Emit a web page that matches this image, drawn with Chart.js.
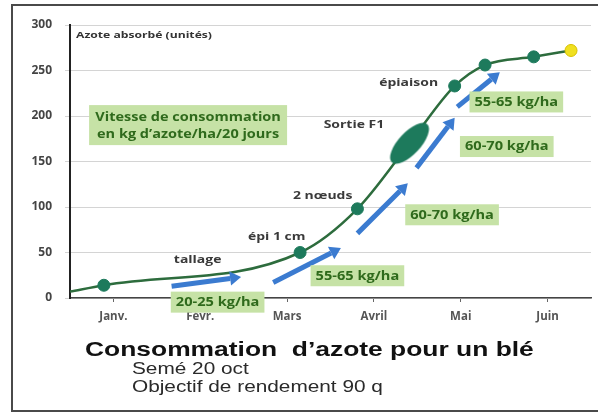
<!DOCTYPE html>
<html>
<head>
<meta charset="utf-8">
<script src="https://cdn.jsdelivr.net/npm/chart.js@4.4.1/dist/chart.umd.min.js"></script>
<style>
  body { margin: 0; background: #fff; }
  #wrap { position: relative; width: 598px; height: 414px; overflow: hidden; }
  #cadre { position: absolute; left: 11px; top: 4px; width: 600px; height: 404px; border: 2px solid #4a4a4a; }
  #graph { position: absolute; left: 0; top: 0; }
  .titre { position: absolute; left: 85px; top: 339px; font: bold 20px/20px "Liberation Sans", Arial, sans-serif; color: #111; white-space: pre; transform: scaleX(1.32); transform-origin: left top; }
  .sous { position: absolute; left: 132px; font: 16px/16px "Liberation Sans", Arial, sans-serif; color: #2a2a2a; transform: scaleX(1.3); transform-origin: left top; }
</style>
</head>
<body>
<div id="wrap">
  <div id="cadre"></div>
  <canvas id="graph" width="598" height="414"></canvas>
  <div class="titre">Consommation  d’azote pour un blé</div>
  <div class="sous" style="top:361px">Semé 20 oct</div>
  <div class="sous" style="top:379px">Objectif de rendement 90 q</div>
</div>
<script>
// Mois (axe X) et courbe d'azote absorbé
const mois = ['Janv.', 'Févr.', 'Mars', 'Avril', 'Mai', 'Juin'];
const moisPos = [0, 0.39, 2.65, 3.31, 3.91, 4.43, 4.78, 5.34, 5.77];
const azote = [7, 14, 50, 98, 170, 233, 256, 265, 272];
const yTicks = [0, 50, 100, 150, 200, 250, 300];

// Flèches de vitesse (début / fin, en mois et unités)
const flecheDebutX = [1.17, 2.34, 3.31, 3.99, 4.46];
const flecheDebutY = [13, 17, 71, 143, 210];
const flecheFinX = [1.97, 3.12, 3.89, 4.43, 4.95];
const flecheFinY = [23, 55, 126, 198, 248];

// Étiquettes vertes
const vitesses = ['20-25 kg/ha', '55-65 kg/ha', '60-70 kg/ha', '60-70 kg/ha', '55-65 kg/ha'];
const vitesseX = [1.70, 3.31, 4.40, 5.03, 5.14];
const vitesseY = [-4, 25, 92, 167, 216];

// Stades
const stades = ['tallage', 'épi 1 cm', '2 nœuds', 'Sortie F1', 'épiaison'];
const stadeX = [1.47, 2.38, 2.91, 3.27, 3.90];
const stadeY = [42, 67, 112, 190, 236];

const vert = '#1d7a5c';
const etire = 1.27; // le texte de l'image d'origine est étiré en largeur

// point en ellipse pour la sortie F1
function ellipse() {
    const c = document.createElement('canvas');
    c.width = 60; c.height = 60;
    const g = c.getContext('2d');
    g.fillStyle = vert;
    g.beginPath();
    g.ellipse(30, 30, 26, 11, -0.82, 0, Math.PI * 2);
    g.fill();
    return c;
}

// texte étiré horizontalement autour de x
function texte(ctx, str, x, y, k) {
    ctx.save();
    ctx.translate(x, y);
    ctx.scale(k, 1);
    ctx.fillText(str, 0, 0);
    ctx.restore();
}

const styles = moisPos.map((p, i) => i == 4 ? ellipse() : 'circle');
const rayons = moisPos.map((p, i) => i == 0 ? 0 : 6);
const fonds = moisPos.map((p, i) => i == moisPos.length - 1 ? '#f0e020' : vert);
const bords = moisPos.map((p, i) => i == moisPos.length - 1 ? '#d8c000' : vert);

const annotations = {
    id: 'annotations',
    afterDraw(chart) {
        const ctx = chart.ctx;
        const sx = chart.scales.x2, sy = chart.scales.y;
        const area = chart.chartArea;
        ctx.save();

        // titre de l'axe
        ctx.fillStyle = '#333';
        ctx.font = 'bold 9px "Open Sans"';
        ctx.textAlign = 'left';
        ctx.textBaseline = 'middle';
        texte(ctx, 'Azote absorbé (unités)', area.left + 6, area.top + 10, 1.35);

        // flèches bleues
        ctx.strokeStyle = '#3b7bd0';
        ctx.fillStyle = '#3b7bd0';
        ctx.lineWidth = 5;
        for (let i = 0; i < flecheDebutX.length; i++) {
            const x1 = sx.getPixelForValue(flecheDebutX[i]), y1 = sy.getPixelForValue(flecheDebutY[i]);
            const x2 = sx.getPixelForValue(flecheFinX[i]), y2 = sy.getPixelForValue(flecheFinY[i]);
            const a = Math.atan2(y2 - y1, x2 - x1);
            const bx = x2 - 11 * Math.cos(a), by = y2 - 11 * Math.sin(a);
            ctx.beginPath();
            ctx.moveTo(x1, y1);
            ctx.lineTo(bx, by);
            ctx.stroke();
            ctx.beginPath();
            ctx.moveTo(x2, y2);
            ctx.lineTo(bx + 7 * Math.sin(a), by - 7 * Math.cos(a));
            ctx.lineTo(bx - 7 * Math.sin(a), by + 7 * Math.cos(a));
            ctx.closePath();
            ctx.fill();
        }

        // boîtes vertes
        ctx.font = 'bold 11.5px "Open Sans"';
        ctx.textAlign = 'center';
        for (let i = 0; i < vitesses.length; i++) {
            const x = sx.getPixelForValue(vitesseX[i]), y = sy.getPixelForValue(vitesseY[i]);
            const w = ctx.measureText(vitesses[i]).width * etire + 10;
            ctx.fillStyle = '#c6e2a6';
            ctx.fillRect(x - w / 2, y - 10, w, 21);
            ctx.fillStyle = '#2f6a1c';
            texte(ctx, vitesses[i], x, y + 1, etire);
        }

        // légende de la vitesse
        const lx = sx.getPixelForValue(1.36), ly = sy.getPixelForValue(190);
        ctx.fillStyle = '#c6e2a6';
        ctx.fillRect(lx - 99, ly - 20, 198, 40);
        ctx.fillStyle = '#2f6a1c';
        ctx.font = 'bold 12.5px "Open Sans"';
        texte(ctx, 'Vitesse de consommation', lx, ly - 8, 1.16);
        texte(ctx, 'en kg d’azote/ha/20 jours', lx, ly + 9, 1.16);

        // stades
        ctx.fillStyle = '#3a3a3a';
        ctx.font = 'bold 11px "Open Sans"';
        for (let i = 0; i < stades.length; i++) {
            texte(ctx, stades[i], sx.getPixelForValue(stadeX[i]), sy.getPixelForValue(stadeY[i]), etire);
        }
        ctx.restore();
    }
};

new Chart(document.getElementById('graph'), {
    type: 'line',
    data: {
        labels: mois,
        datasets: [{
            data: moisPos.map((p, i) => ({ x: p, y: azote[i] })),
            xAxisID: 'x2',
            borderColor: '#2d6c3d',
            borderWidth: 2.5,
            cubicInterpolationMode: 'monotone',
            pointStyle: styles,
            pointRadius: rayons,
            pointBackgroundColor: fonds,
            pointBorderColor: bords,
            pointBorderWidth: 1
        }]
    },
    options: {
        responsive: false,
        animation: false,
        events: [],
        layout: { padding: { left: 20, right: 3, top: 25, bottom: 86 } },
        plugins: { legend: { display: false }, tooltip: { enabled: false } },
        scales: {
            x: {
                type: 'category',
                offset: true,
                afterFit: s => { s.height = 30; },
                grid: { drawOnChartArea: false, color: '#666', tickLength: 4 },
                border: { color: '#444', width: 1.5 },
                ticks: { color: '#555', font: { family: 'Open Sans', weight: 'bold', size: 11.5 }, padding: 8 }
            },
            x2: { type: 'linear', min: 0, max: 6, display: false },
            y: {
                min: yTicks[0],
                max: yTicks[yTicks.length - 1],
                afterFit: s => { s.width = 50; },
                afterBuildTicks: s => { s.ticks = yTicks.map(v => ({ value: v })); },
                grid: { color: '#d4d4d4', tickLength: 5 },
                border: { color: '#222', width: 2 },
                ticks: { color: '#444', font: { family: 'Open Sans', weight: 'bold', size: 12 }, padding: 13 }
            }
        }
    },
    plugins: [annotations]
});
</script>
</body>
</html>
